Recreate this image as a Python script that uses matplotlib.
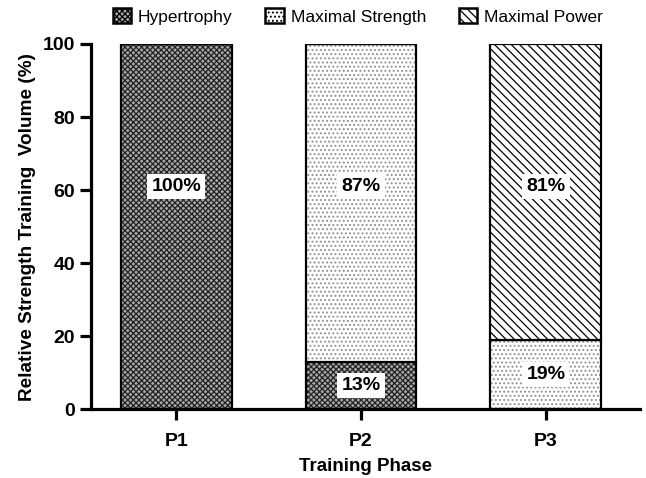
import matplotlib
matplotlib.use("Agg")
import matplotlib.pyplot as plt
import numpy as np

phases = ["P1", "P2", "P3"]
hypertrophy = [100, 13, 0]
max_strength = [0, 87, 19]
max_power = [0, 0, 81]

plt.rcParams["font.family"] = "Liberation Sans"
plt.rcParams["hatch.linewidth"] = 0.9

fig = plt.figure(figsize=(6.46, 4.78), dpi=100)
ax = fig.add_axes([0.141, 0.144, 0.85, 0.764])

x = np.arange(len(phases))
w = 0.6
# name, values, face, hatch, hatch colour
series = [
    ("Hypertrophy", hypertrophy, "#a8a8a8", "xxxxxx", "#222222"),
    ("Maximal Strength", max_strength, "white", "....", "#909090"),
    ("Maximal Power", max_power, "white", "\\\\\\\\", "black"),
]
bottom = np.zeros(len(phases))
handles = []
for name, vals, fc, hatch, hc in series:
    vals = np.array(vals, dtype=float)
    # hatch layer, then black outline on top
    ax.bar(x, vals, w, bottom=bottom, color=fc, hatch=hatch,
           edgecolor=hc, linewidth=0)
    ax.bar(x, vals, w, bottom=bottom, fill=False,
           edgecolor="black", linewidth=1.6)
    handles.append(plt.Rectangle((0, 0), 1, 1, facecolor=fc, hatch=hatch,
                                 edgecolor="black", linewidth=1.8, label=name))
    bottom += vals

# value labels
bottom = np.zeros(len(phases))
for name, vals, fc, hatch, hc in series:
    for i, v in enumerate(vals):
        if v <= 0:
            continue
        top_seg = bottom[i] + v >= 100
        y = 61 if top_seg else bottom[i] + v / 2
        ax.text(x[i], y, f"{v}%", ha="center", va="center", fontsize=14,
                fontweight="bold",
                bbox=dict(fc="white", ec="none", pad=3))
    bottom += np.array(vals, dtype=float)

ax.set_xlim(-0.46, 2.51)
ax.set_ylim(0, 100)
ax.set_yticks([0, 20, 40, 60, 80, 100])
ax.set_xticks(x)
ax.set_xticklabels(phases)
for s in ["top", "right"]:
    ax.spines[s].set_visible(False)
for s in ["left", "bottom"]:
    ax.spines[s].set_linewidth(2.3)
ax.tick_params(width=2.3, length=8, labelsize=14)
ax.tick_params(axis="x", pad=9)
for lab in ax.get_xticklabels() + ax.get_yticklabels():
    lab.set_fontweight("bold")
ax.set_ylabel("Relative Strength Training  Volume (%)", fontsize=13.7,
              fontweight="bold", labelpad=5)
ax.set_xlabel("Training Phase", fontsize=13.5, fontweight="bold", labelpad=6)

fig.legend(handles=handles, loc="upper center", bbox_to_anchor=(0.554, 1.015),
           ncol=3, frameon=False, fontsize=12.5, handlelength=1.05,
           handleheight=0.9, columnspacing=1.9, handletextpad=0.4)

fig.savefig("out.png", dpi=100)
